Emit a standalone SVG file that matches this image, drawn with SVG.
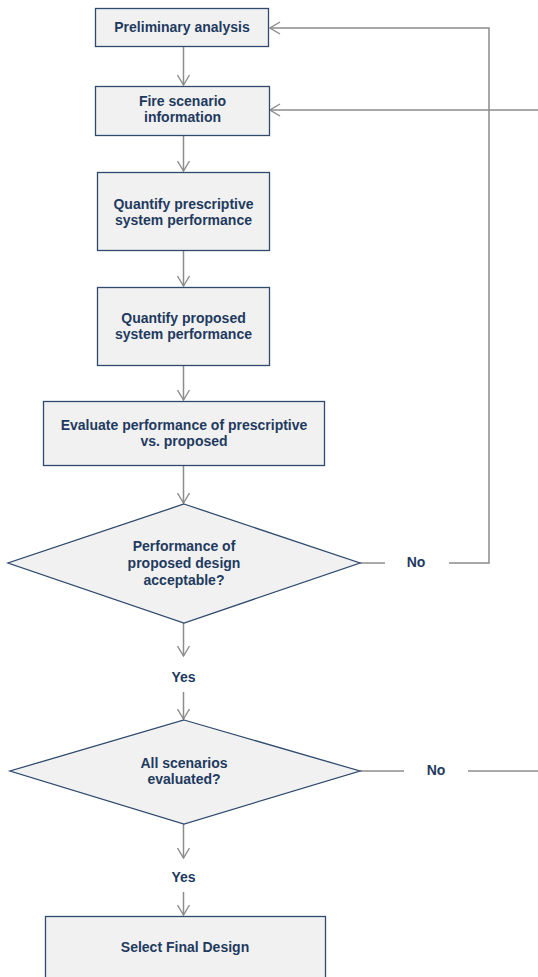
<svg xmlns="http://www.w3.org/2000/svg" width="538" height="977" viewBox="0 0 538 977">
<style>
.box{fill:#f1f1f1;stroke:#2e4a6e;stroke-width:1.3}
.t{font-family:"Liberation Sans",Arial,sans-serif;font-size:14px;font-weight:bold;fill:#1f3a5f;text-anchor:middle}
.c{fill:none;stroke:#8c8c8c;stroke-width:1.5}
</style>
<defs>
<marker id="arr" viewBox="0 0 12 14" refX="11" refY="7" markerWidth="12" markerHeight="14" markerUnits="userSpaceOnUse" orient="auto">
<path d="M1,1 L11,7 L1,13" fill="none" stroke="#8c8c8c" stroke-width="1.4"/>
</marker>
</defs>
<rect width="538" height="977" fill="#ffffff"/>
<g id="connectors">
<line class="c" x1="183.5" y1="47" x2="183.5" y2="85" marker-end="url(#arr)"/>
<line class="c" x1="183.5" y1="135" x2="183.5" y2="171" marker-end="url(#arr)"/>
<line class="c" x1="183.5" y1="251" x2="183.5" y2="286" marker-end="url(#arr)"/>
<line class="c" x1="183.5" y1="366" x2="183.5" y2="400" marker-end="url(#arr)"/>
<line class="c" x1="183.5" y1="466" x2="183.5" y2="503" marker-end="url(#arr)"/>
<line class="c" x1="183.5" y1="623" x2="183.5" y2="656" marker-end="url(#arr)"/>
<line class="c" x1="183.5" y1="692" x2="183.5" y2="719" marker-end="url(#arr)"/>
<line class="c" x1="183.5" y1="824" x2="183.5" y2="858" marker-end="url(#arr)"/>
<line class="c" x1="183.5" y1="892" x2="183.5" y2="915" marker-end="url(#arr)"/>
<line class="c" x1="360" y1="563" x2="385" y2="563"/>
<polyline class="c" points="449,563 489,563 489,28 270,28" marker-end="url(#arr)"/>
<line class="c" x1="360" y1="771" x2="404" y2="771"/>
<line class="c" x1="468" y1="771" x2="538" y2="771"/>
<line class="c" x1="538" y1="110" x2="270" y2="110" marker-end="url(#arr)"/>
</g>
<g id="preliminary">
<rect class="box" x="95.5" y="8.5" width="173" height="38"/>
<text class="t" x="182" y="32">Preliminary analysis</text>
</g>
<g id="fire-scenario">
<rect class="box" x="95.5" y="86.5" width="174" height="49"/>
<text class="t" x="182.5" y="106">Fire scenario</text>
<text class="t" x="182.5" y="122">information</text>
</g>
<g id="quantify-prescriptive">
<rect class="box" x="97.5" y="172.5" width="172" height="78"/>
<text class="t" x="183.5" y="209">Quantify prescriptive</text>
<text class="t" x="183.5" y="225">system performance</text>
</g>
<g id="quantify-proposed">
<rect class="box" x="97.5" y="287.5" width="172" height="78"/>
<text class="t" x="183.5" y="323">Quantify proposed</text>
<text class="t" x="183.5" y="339">system performance</text>
</g>
<g id="evaluate">
<rect class="box" x="43.5" y="401.5" width="281" height="64"/>
<text class="t" x="184" y="430">Evaluate performance of prescriptive</text>
<text class="t" x="184" y="446">vs. proposed</text>
</g>
<g id="acceptable">
<polygon class="box" points="184,504 360,563 184,623 8,563"/>
<text class="t" x="184" y="551">Performance of</text>
<text class="t" x="184" y="568">proposed design</text>
<text class="t" x="184" y="585">acceptable?</text>
</g>
<g id="no1"><text class="t" x="416" y="567">No</text></g>
<g id="yes1"><text class="t" x="183.5" y="682">Yes</text></g>
<g id="all-scenarios">
<polygon class="box" points="184,720 360,771 184,824 10,771"/>
<text class="t" x="184" y="768">All scenarios</text>
<text class="t" x="184" y="784">evaluated?</text>
</g>
<g id="no2"><text class="t" x="436" y="775">No</text></g>
<g id="yes2"><text class="t" x="183.5" y="882">Yes</text></g>
<g id="select-final">
<rect class="box" x="45.5" y="916.5" width="280" height="70"/>
<text class="t" x="185" y="952">Select Final Design</text>
</g>
</svg>
